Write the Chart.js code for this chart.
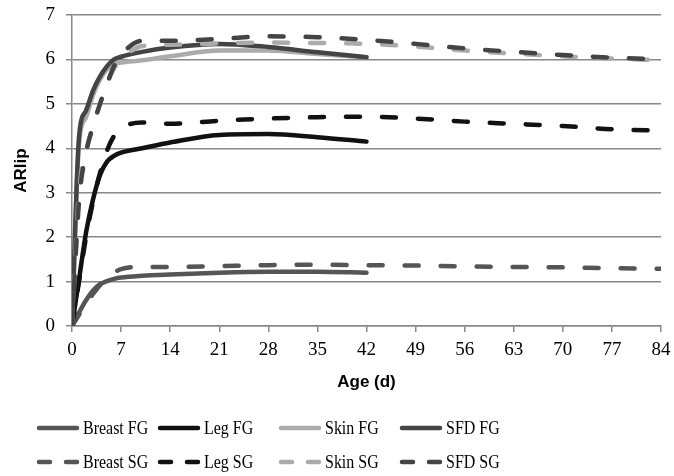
<!DOCTYPE html>
<html>
<head>
<meta charset="utf-8">
<script src="https://cdn.jsdelivr.net/npm/chart.js@4/dist/chart.umd.min.js"></script>
<style>
  html, body { margin: 0; padding: 0; background: #fff; }
</style>
</head>
<body>
<canvas id="chart" width="674" height="476"></canvas>
<script>
// days sampled (FG birds to 42 d, SG birds to 84 d)
const daysFG = [0, 1, 2, 3, 4, 5, 6, 7, 10, 14, 21, 28, 35, 42];
const daysSG = [0, 1, 2, 3, 4, 5, 6, 7, 10, 14, 21, 28, 35, 42, 49, 56, 63, 70, 77, 84];

const breastFG = [0, 0.3, 0.58, 0.8, 0.94, 1.01, 1.06, 1.09, 1.13, 1.16, 1.2, 1.22, 1.22, 1.2];
const legFG    = [0, 1.05, 2.1, 2.85, 3.4, 3.7, 3.83, 3.9, 4.0, 4.13, 4.3, 4.32, 4.25, 4.15];
const skinFG   = [0, 4.1, 4.7, 5.2, 5.55, 5.78, 5.9, 5.93, 5.98, 6.07, 6.2, 6.2, 6.12, 6.05];
const sfdFG    = [0, 4.25, 4.85, 5.3, 5.62, 5.85, 6.0, 6.06, 6.17, 6.27, 6.35, 6.28, 6.16, 6.05];

const breastSG = [0, 0.25, 0.5, 0.72, 0.92, 1.07, 1.2, 1.28, 1.33, 1.33, 1.35, 1.37, 1.38, 1.37, 1.36, 1.34, 1.33, 1.32, 1.3, 1.29];
const legSG    = [0, 1.0, 2.0, 2.8, 3.45, 3.95, 4.28, 4.45, 4.58, 4.55, 4.62, 4.67, 4.7, 4.71, 4.67, 4.6, 4.55, 4.5, 4.43, 4.4];
const skinSG   = [0, 3.0, 3.9, 4.5, 5.0, 5.45, 5.8, 6.0, 6.3, 6.33, 6.36, 6.38, 6.37, 6.35, 6.29, 6.2, 6.13, 6.07, 6.02, 5.98];
const sfdSG    = [0, 2.8, 3.9, 4.5, 5.0, 5.45, 5.85, 6.1, 6.42, 6.42, 6.46, 6.52, 6.5, 6.44, 6.35, 6.25, 6.17, 6.1, 6.04, 6.0];

const seriesLabels = ['Breast FG', 'Leg FG', 'Skin FG', 'SFD FG', 'Breast SG', 'Leg SG', 'Skin SG', 'SFD SG'];
const xTicks = [0, 7, 14, 21, 28, 35, 42, 49, 56, 63, 70, 77, 84];

function pts(days, vals) {
    return days.map((d, i) => ({x: d, y: vals[i]}));
}

const colors = ['#555555', '#111111', '#ababab', '#444444'];

function makeSet(i, days, vals) {
    const dashed = i >= 4;
    return {
        label: seriesLabels[i],
        data: pts(days, vals),
        borderColor: colors[i % 4],
        borderWidth: 4.5,
        borderDash: dashed ? [14, 22] : [],
        borderCapStyle: 'round',
        borderJoinStyle: 'round',
        pointRadius: 0,
        cubicInterpolationMode: 'monotone',
        fill: false,
        order: 8 - i   // later series drawn on top, like the original
    };
}

const datasets = [
    makeSet(0, daysFG, breastFG),
    makeSet(1, daysFG, legFG),
    makeSet(2, daysFG, skinFG),
    makeSet(3, daysFG, sfdFG),
    makeSet(4, daysSG, breastSG),
    makeSet(5, daysSG, legSG),
    makeSet(6, daysSG, skinSG),
    makeSet(7, daysSG, sfdSG)
];

// legend in a fixed 4 x 2 grid under the chart
const gridLegend = {
    id: 'gridLegend',
    afterDraw(chart) {
        const ctx = chart.ctx;
        chart.data.datasets.forEach((ds, i) => {
            const col = i % 4, row = Math.floor(i / 4);
            const x = 37 + col * 121, y = 428 + row * 34;
            ctx.save();
            ctx.strokeStyle = ds.borderColor;
            ctx.lineWidth = 4.5;
            ctx.lineCap = 'round';
            ctx.setLineDash(ds.borderDash.length ? [11, 16] : []);
            ctx.beginPath();
            ctx.moveTo(x + 2, y);
            ctx.lineTo(x + 40, y);
            ctx.stroke();
            ctx.setLineDash([]);
            ctx.fillStyle = '#000';
            ctx.font = '19px "Liberation Serif"';
            ctx.textBaseline = 'middle';
            ctx.translate(x + 46, y + 1);
            ctx.scale(0.84, 1);   // the original legend font is narrow
            ctx.fillText(ds.label, 0, 0);
            ctx.restore();
        });
    }
};

const ctx = document.getElementById('chart').getContext('2d');
new Chart(ctx, {
    type: 'line',
    data: {datasets: datasets},
    options: {
        responsive: false,
        animation: false,
        layout: {padding: {top: 15, right: 13, bottom: 80, left: 0}},
        plugins: {legend: {display: false}, tooltip: {enabled: false}},
        scales: {
            x: {
                type: 'linear',
                min: 0,
                max: 84,
                afterBuildTicks: (s) => { s.ticks = xTicks.map(v => ({value: v})); },
                afterFit: (s) => { s.height = 70; s.paddingLeft = 0; s.paddingRight = 0; },
                ticks: {color: '#000', padding: 7, maxRotation: 0, font: {family: 'Liberation Serif', size: 19}},
                grid: {drawOnChartArea: false, color: '#888', lineWidth: 1.5, tickLength: 6},
                border: {color: '#888', width: 1.5},
                title: {display: true, text: 'Age (d)', color: '#000', padding: {top: 0, bottom: 3},
                        font: {family: 'Liberation Sans', size: 17, weight: 'bold'}}
            },
            y: {
                min: 0,
                max: 7,
                afterFit: (s) => { s.width = 72; s.paddingTop = 0; s.paddingBottom = 0; },
                ticks: {stepSize: 1, color: '#000', padding: 11, font: {family: 'Liberation Serif', size: 19}},
                grid: {color: '#888', lineWidth: 1.5, tickLength: 6},
                border: {color: '#888', width: 1.5},
                title: {display: true, text: 'ARlip', color: '#000', padding: {top: 11, bottom: 0},
                        font: {family: 'Liberation Sans', size: 17, weight: 'bold'}}
            }
        }
    },
    plugins: [gridLegend]
});
</script>
</body>
</html>
